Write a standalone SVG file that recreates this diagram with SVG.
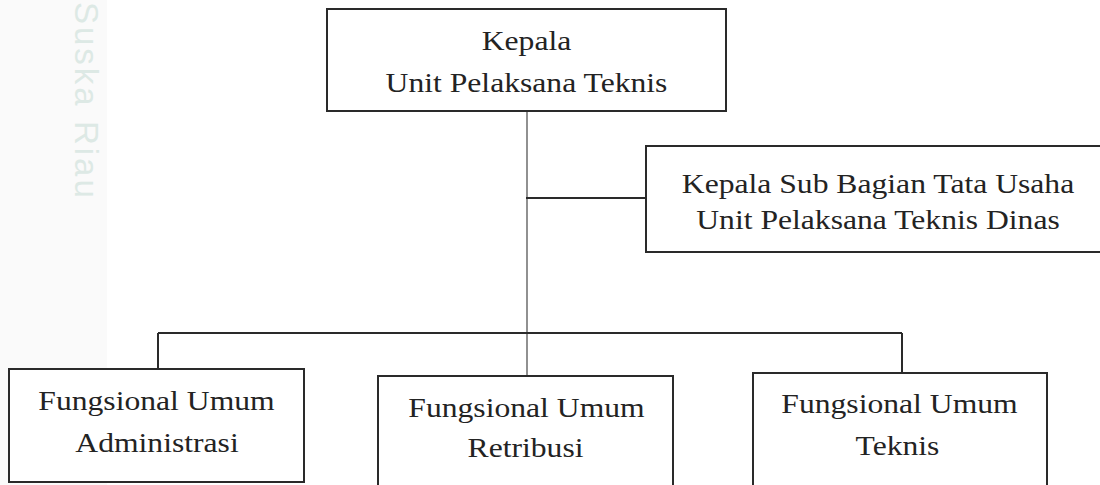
<svg xmlns="http://www.w3.org/2000/svg" width="1100" height="485" viewBox="0 0 1100 485">
  <style>
    .box { fill: #ffffff; stroke: #2a2a2a; stroke-width: 2; }
    .lbl { font-family: "Liberation Serif", "Times New Roman", Times, serif; font-size: 28px; fill: #232323; text-anchor: middle; }
    .wm { font-family: "Liberation Sans", Arial, sans-serif; font-size: 33px; fill: #dde9e5; letter-spacing: 3px; }
    .trunk { stroke: #555555; stroke-width: 1.3; fill: none; }
    .conn { stroke: #2a2a2a; stroke-width: 2; fill: none; }
  </style>
  <rect x="0" y="0" width="1100" height="485" fill="#ffffff"/>
  <rect x="0" y="0" width="107" height="485" fill="#fafafa"/>
  <text class="wm" transform="translate(75,2) rotate(90)">Suska Riau</text>

  <g id="connectors">
    <line class="trunk" x1="527" y1="111" x2="527" y2="376"/>
    <line class="conn" x1="526" y1="198" x2="646" y2="198"/>
    <line class="conn" x1="158" y1="333" x2="902" y2="333"/>
    <line class="conn" x1="158" y1="333" x2="158" y2="369"/>
    <line class="conn" x1="902" y1="333" x2="902" y2="373"/>
  </g>

  <g id="kepala-upt">
    <rect class="box" x="327" y="9" width="399" height="102"/>
    <text class="lbl" transform="translate(526.5,50) scale(1.13,1)">Kepala</text>
    <text class="lbl" transform="translate(526.5,92) scale(1.13,1)">Unit Pelaksana Teknis</text>
  </g>

  <g id="kasubag-tu">
    <rect class="box" x="646" y="146" width="464" height="106"/>
    <text class="lbl" transform="translate(878,193) scale(1.13,1)">Kepala Sub Bagian Tata Usaha</text>
    <text class="lbl" transform="translate(878,229) scale(1.13,1)">Unit Pelaksana Teknis Dinas</text>
  </g>

  <g id="fungsional-administrasi">
    <rect class="box" x="9" y="369" width="295" height="113"/>
    <text class="lbl" transform="translate(156.5,410) scale(1.13,1)">Fungsional Umum</text>
    <text class="lbl" transform="translate(157,452) scale(1.13,1)">Administrasi</text>
  </g>

  <g id="fungsional-retribusi">
    <rect class="box" x="378" y="376" width="295" height="120"/>
    <text class="lbl" transform="translate(526.5,417) scale(1.13,1)">Fungsional Umum</text>
    <text class="lbl" transform="translate(525.5,457) scale(1.13,1)">Retribusi</text>
  </g>

  <g id="fungsional-teknis">
    <rect class="box" x="753" y="373" width="294" height="120"/>
    <text class="lbl" transform="translate(899.5,413) scale(1.13,1)">Fungsional Umum</text>
    <text class="lbl" transform="translate(897.5,455) scale(1.13,1)">Teknis</text>
  </g>
</svg>
